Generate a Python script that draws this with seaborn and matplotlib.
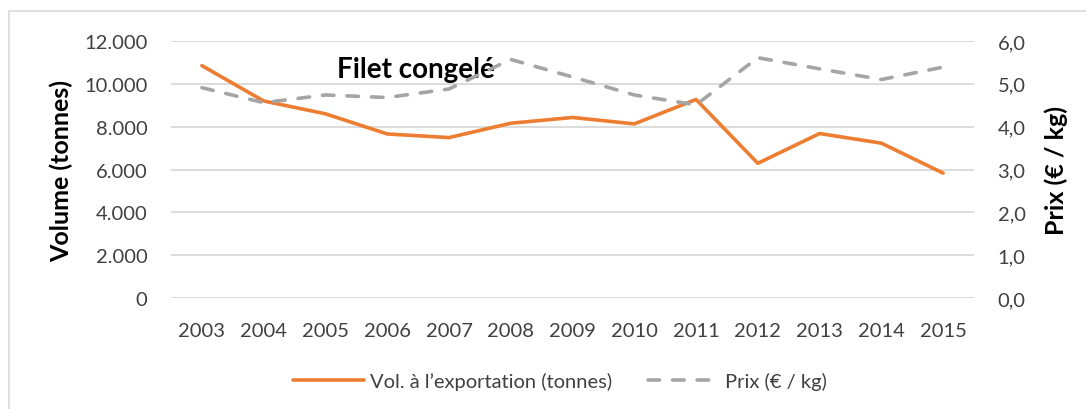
import matplotlib
matplotlib.use("Agg")
import matplotlib.pyplot as plt
import seaborn as sns
import pandas as pd
from matplotlib.patches import Rectangle
from matplotlib.ticker import FuncFormatter

years = ["2003", "2004", "2005", "2006", "2007", "2008", "2009",
         "2010", "2011", "2012", "2013", "2014", "2015"]
volume = [10850, 9200, 8600, 7660, 7490, 8160, 8430,
          8130, 9270, 6290, 7680, 7230, 5830]
prix = [4.91, 4.56, 4.74, 4.68, 4.88, 5.57, 5.16,
        4.74, 4.51, 5.61, 5.35, 5.10, 5.39]

sns.set_style("white")
plt.rcParams["font.family"] = ["Lato", "DejaVu Sans"]

df = pd.DataFrame({"year": years, "volume": volume, "prix": prix})
df["pos"] = range(len(years))

fig = plt.figure(figsize=(10.86, 4.10), dpi=100)
ax = fig.add_axes([171 / 1086, 1 - 299 / 410, 803 / 1086, 257 / 410])
ax2 = ax.twinx()

sns.lineplot(data=df, x="pos", y="volume", ax=ax, color="#ED7D31",
             linewidth=2.6, label="Vol. à l’exportation (tonnes)", legend=False)
sns.lineplot(data=df, x="pos", y="prix", ax=ax2, color="#A5A5A5",
             linewidth=2.6, label="Prix (€ / kg)", legend=False)
ax2.lines[0].set_dashes([3.2, 3.6])
ax2.lines[0].set_dash_capstyle("round")

ax.set_xlim(-0.5, len(years) - 0.5)
ax.set_ylim(0, 12000)
ax2.set_ylim(0, 6)
ax.set_yticks(range(0, 12001, 2000))
ax2.set_yticks([0, 1, 2, 3, 4, 5, 6])
ax.yaxis.set_major_formatter(FuncFormatter(lambda v, p: f"{int(v):,}".replace(",", ".")))
ax2.yaxis.set_major_formatter(FuncFormatter(lambda v, p: f"{v:.1f}".replace(".", ",")))
ax.set_xticks(df["pos"])
ax.set_xticklabels(years)

ax.grid(axis="y", color="#D9D9D9", linewidth=1.3)
ax.set_axisbelow(True)
for a in (ax, ax2):
    for s in a.spines.values():
        s.set_visible(False)
    a.tick_params(length=0, labelsize=14.5, colors="#404040")
ax.tick_params(axis="y", pad=17)
ax.tick_params(axis="x", pad=17)
ax2.tick_params(axis="y", pad=17)
ax2.set_zorder(ax.zorder + 1)
ax2.patch.set_visible(False)

ax.set_xlabel("")
ax.set_ylabel("Volume (tonnes)", fontsize=18, fontweight="bold", color="black", va="center")
ax.yaxis.set_label_coords(-0.137, 0.5)
ax2.set_ylabel("Prix (€ / kg)", fontsize=18, fontweight="bold", color="black", va="center")
ax2.yaxis.set_label_coords(1.103, 0.5)

ax.text(0.305, 0.89, "Filet congelé", transform=ax.transAxes, ha="center",
        va="center", fontsize=20, fontweight="bold", color="black", zorder=5)

handles = ax.get_lines()[:1] + ax2.get_lines()[:1]
fig.legend(handles, [h.get_label() for h in handles], loc="center",
           bbox_to_anchor=(560 / 1086, 1 - 382 / 410), ncol=2, frameon=False,
           fontsize=14.5, handlelength=3.5, handletextpad=0.3,
           columnspacing=1.8, labelcolor="#404040")

fig.patches.append(Rectangle((9 / 1086, -0.1), 1.2, 1 - 12 / 410 + 0.1,
                             transform=fig.transFigure, fill=False,
                             edgecolor="#D9D9D9", linewidth=1.2))

fig.savefig("out.png", dpi=100)
